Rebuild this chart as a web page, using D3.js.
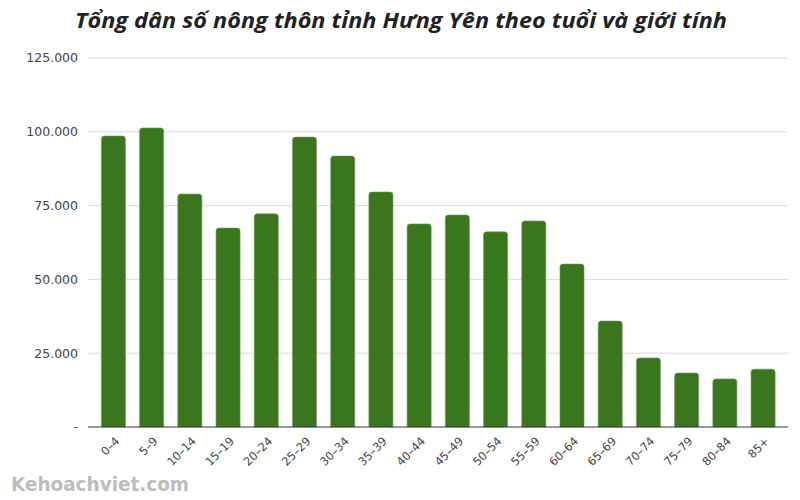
<!DOCTYPE html>
<html>
<head>
	<meta http-equiv="Content-Type" content="text/html;charset=utf-8">
	<title>Hưng Yên</title>
	<script src="https://d3js.org/d3.v7.min.js"></script>
	<style type="text/css">
		body { margin: 0; background: #fff; }
		.grid line { stroke: #d9d9d9; stroke-width: 1px; }
		.axis text { font-family: "DejaVu Sans", sans-serif; fill: #444; }
	</style>
</head>
<body>
	<svg width="800" height="500"></svg>

	<script type="text/javascript">
		// nhóm tuổi và dân số nông thôn
		var ageGroups = ["0–4", "5–9", "10–14", "15–19", "20–24", "25–29", "30–34", "35–39", "40–44",
			"45–49", "50–54", "55–59", "60–64", "65–69", "70–74", "75–79", "80–84", "85+"];
		var population = [98600, 101300, 78900, 67400, 72200, 98200, 91800, 79600, 68800,
			71800, 66100, 69800, 55200, 35900, 23400, 18300, 16300, 19600];
		var yTicks = [0, 25000, 50000, 75000, 100000, 125000];

		var svg = d3.select("svg");
		var plotLeft = 88, plotRight = 788, plotTop = 58, plotBottom = 427;

		var x = d3.scaleBand().domain(ageGroups).range([94.5, 782]).paddingInner(0.37).paddingOuter(0.18);
		var y = d3.scaleLinear().domain([0, 125000]).range([plotBottom, plotTop]);

		var fmt = function (v) { return v === 0 ? "-" : d3.format(",")(v).replace(/,/g, "."); };

		// gridlines
		svg.append("g").attr("class", "grid")
			.selectAll("line").data(yTicks.slice(1)).enter().append("line")
			.attr("x1", plotLeft).attr("x2", plotRight)
			.attr("y1", function (d) { return y(d); }).attr("y2", function (d) { return y(d); });

		// y labels
		svg.append("g").attr("class", "axis")
			.selectAll("text").data(yTicks).enter().append("text")
			.attr("x", 78).attr("y", function (d) { return y(d); })
			.attr("dy", "0.35em").attr("text-anchor", "end")
			.style("font-size", "12.5px")
			.text(fmt);

		// bars
		svg.append("g").selectAll("path").data(population).enter().append("path")
			.attr("fill", "#3a761e").attr("stroke", "#6f9a5a").attr("stroke-width", 0.6)
			.attr("d", function (d, i) {
				var x0 = x(ageGroups[i]), w = x.bandwidth(), y0 = y(d), r = 3;
				return "M" + x0 + "," + plotBottom + "V" + (y0 + r) + "Q" + x0 + "," + y0 + " " + (x0 + r) + "," + y0 +
					"H" + (x0 + w - r) + "Q" + (x0 + w) + "," + y0 + " " + (x0 + w) + "," + (y0 + r) + "V" + plotBottom + "Z";
			});

		// baseline
		svg.append("line").attr("x1", plotLeft).attr("x2", plotRight).attr("y1", plotBottom).attr("y2", plotBottom)
			.attr("stroke", "#333").attr("stroke-width", 1.2);

		// x labels
		svg.append("g").attr("class", "axis")
			.selectAll("text").data(ageGroups).enter().append("text")
			.attr("transform", function (d) { return "translate(" + (x(d) + x.bandwidth() / 2 + 4) + "," + 439 + ") rotate(-45)"; })
			.attr("text-anchor", "end").attr("dy", "0.35em")
			.style("font-size", "11.5px")
			.text(function (d) { return d; });

		// title
		svg.append("text").attr("x", 401).attr("y", 28).attr("text-anchor", "middle")
			.style("font-family", "'Open Sans', sans-serif").style("font-weight", "bold").style("font-style", "italic")
			.style("font-size", "21px").attr("fill", "#222")
			.attr("textLength", 652).attr("lengthAdjust", "spacingAndGlyphs")
			.text("Tổng dân số nông thôn tỉnh Hưng Yên theo tuổi và giới tính");

		// watermark
		svg.append("text").attr("x", 11).attr("y", 491)
			.style("font-family", "'DejaVu Sans', sans-serif").style("font-weight", "bold")
			.style("font-size", "19px").attr("fill", "#bdbdbd")
			.attr("textLength", 178).attr("lengthAdjust", "spacingAndGlyphs")
			.text("Kehoachviet.com");
	</script>
</body>
</html>
